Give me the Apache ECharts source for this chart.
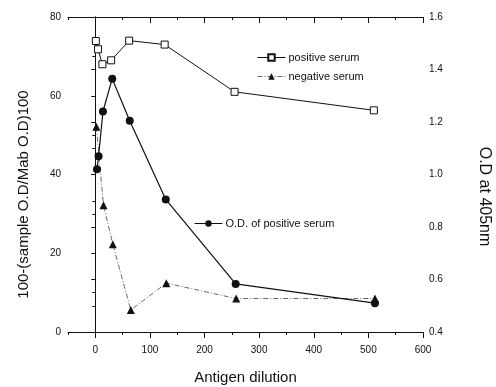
<!DOCTYPE html>
<html>
<head>
<meta charset="utf-8">
<script src="https://cdn.jsdelivr.net/npm/echarts@6/dist/echarts.min.js"></script>
<style>
  html, body { margin: 0; padding: 0; background: #fff; }
  #chart { width: 496px; height: 387px; }
</style>
</head>
<body>
<div id="chart"></div>
<script>
// values
const posDilution = [1, 5, 13, 29, 62, 127, 255, 510];
const posSerum = [73.9, 71.8, 68, 69, 74, 73, 61, 56.3];
const negDilution = [2, 15, 32, 65, 130, 258, 512];
const negSerum = [52.1, 32.2, 22.3, 5.6, 12.4, 8.5, 8.5];
const odDilution = [3, 6, 14, 31, 63, 129, 257, 512];
const odPositive = [1.02, 1.07, 1.24, 1.365, 1.205, 0.905, 0.583, 0.51];
const xMajorTicks = [0, 100, 200, 300, 400, 500, 600];

const pairs = (xs, ys) => xs.map((x, i) => [x, ys[i]]);

const font = 'Liberation Sans, Arial, sans-serif';
const ink = '#111';

const legendText = { fontSize: 11, color: ink, padding: [0, 0, 0, -2] };

const chart = echarts.init(document.getElementById('chart'));

const option = {
  animation: false,
  textStyle: { fontFamily: font, color: ink },
  grid: { left: 68, right: 73, top: 17, bottom: 55, outerBoundsMode: 'none' },
  legend: [
    {
      data: ['positive serum'],
      left: 252, top: 47,
      itemWidth: 28, itemHeight: 8,
      lineStyle: { width: 1 },
      textStyle: legendText,
    },
    {
      data: ['negative serum'],
      left: 252, top: 66,
      itemWidth: 28, itemHeight: 8,
      lineStyle: { width: 1 },
      textStyle: legendText,
    },
    {
      data: ['O.D. of positive serum'],
      left: 189, top: 213,
      itemWidth: 28, itemHeight: 8,
      lineStyle: { width: 1 },
      textStyle: legendText,
    },
  ],
  xAxis: [
    {
      type: 'value', min: -50, max: 600, interval: 50,
      position: 'bottom',
      name: 'Antigen dilution', nameLocation: 'middle', nameGap: 38,
      nameTextStyle: { fontSize: 15, color: ink },
      axisLine: { lineStyle: { color: ink, width: 1 } },
      axisTick: { inside: false, length: 3, lineStyle: { color: ink } },
      axisLabel: {
        fontSize: 10, color: ink, margin: 13,
        formatter: v => (v % 100 === 0 ? String(v) : ''),
      },
      splitLine: { show: false },
    },
    {
      type: 'value', min: -50, max: 600, interval: 50,
      position: 'bottom',
      axisLine: { show: false },
      axisTick: { customValues: xMajorTicks, length: 6, lineStyle: { color: ink } },
      axisLabel: { show: false },
      splitLine: { show: false },
    },
    {
      type: 'value', min: -50, max: 600, interval: 50,
      position: 'top',
      axisLine: { lineStyle: { color: ink, width: 1 } },
      axisTick: { inside: true, length: 3, lineStyle: { color: ink } },
      axisLabel: { show: false },
      splitLine: { show: false },
    },
    {
      type: 'value', min: -50, max: 600, interval: 50,
      position: 'top',
      axisLine: { show: false },
      axisTick: { inside: true, customValues: xMajorTicks, length: 6, lineStyle: { color: ink } },
      axisLabel: { show: false },
      splitLine: { show: false },
    },
  ],
  yAxis: [
    {
      type: 'value', min: 0, max: 80, interval: 20,
      position: 'left',
      name: '100-(sample O.D/Mab O.D)100', nameLocation: 'middle', nameGap: 37,
      nameTextStyle: { fontSize: 15, color: ink, padding: [0, 40, 0, 0] },
      axisLine: { show: true, lineStyle: { color: ink, width: 1 } },
      axisTick: { length: 4, lineStyle: { color: ink } },
      minorTick: { show: true, splitNumber: 2, length: 3, lineStyle: { color: ink } },
      axisLabel: { fontSize: 10, color: ink, margin: 7 },
      splitLine: { show: false },
    },
    {
      type: 'value', min: 0.4, max: 1.6, interval: 0.2,
      position: 'right',
      name: 'O.D at 405nm', nameLocation: 'middle', nameGap: 53, nameRotate: -90,
      nameTextStyle: { fontSize: 16, color: ink, padding: [0, 0, 0, 44] },
      axisLine: { show: true, lineStyle: { color: ink, width: 1 } },
      axisTick: { inside: true, length: 4, lineStyle: { color: ink } },
      minorTick: { show: true, splitNumber: 2, length: 3, lineStyle: { color: ink } },
      axisLabel: { fontSize: 10, color: ink, margin: 6, formatter: v => v.toFixed(1) },
      splitLine: { show: false },
    },
  ],
  series: [
    {
      name: 'positive serum', type: 'line',
      xAxisIndex: 0, yAxisIndex: 0,
      data: pairs(posDilution, posSerum),
      symbol: 'rect', symbolSize: 7,
      itemStyle: { color: '#fff', borderColor: ink, borderWidth: 1 },
      lineStyle: { color: ink, width: 1 },
    },
    {
      name: 'negative serum', type: 'line',
      xAxisIndex: 0, yAxisIndex: 0,
      data: pairs(negDilution, negSerum),
      symbol: 'triangle', symbolSize: 8,
      itemStyle: { color: ink },
      lineStyle: { color: '#666', width: 1, type: [5, 2, 1, 2] },
    },
    {
      name: 'O.D. of positive serum', type: 'line',
      xAxisIndex: 0, yAxisIndex: 1,
      data: pairs(odDilution, odPositive),
      symbol: 'circle', symbolSize: 8,
      itemStyle: { color: ink },
      lineStyle: { color: ink, width: 1.2 },
    },
  ],
};

chart.setOption(option);
</script>
</body>
</html>
